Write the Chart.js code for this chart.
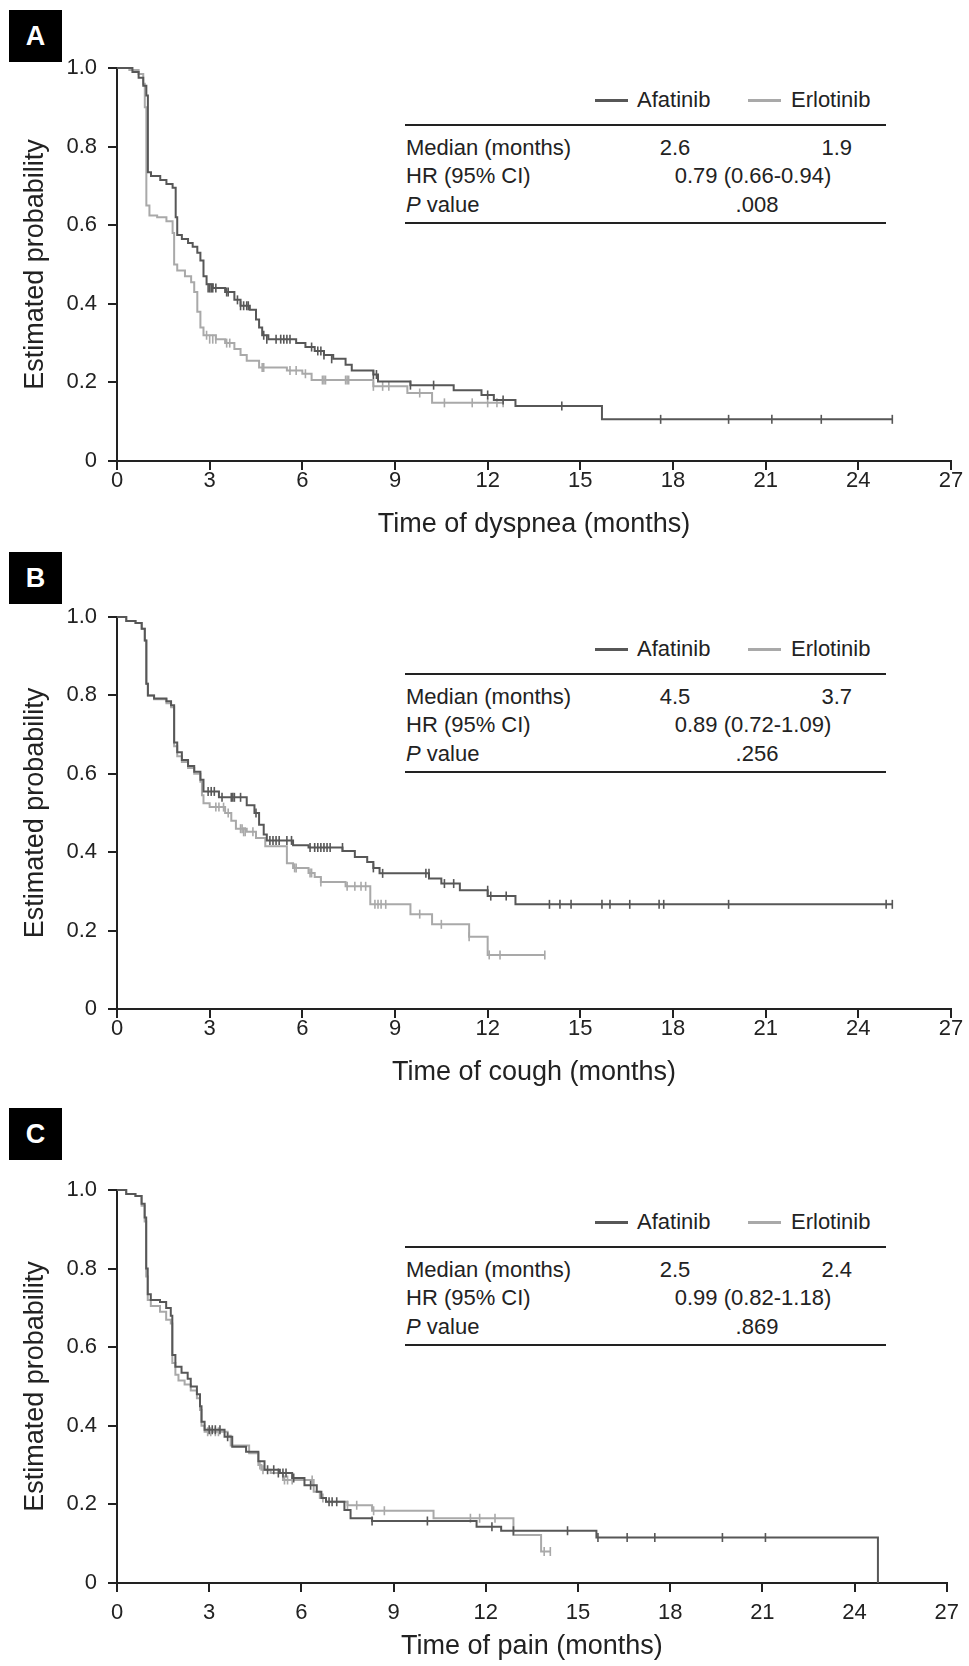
<!DOCTYPE html>
<html>
<head>
<meta charset="utf-8">
<script src="https://cdn.jsdelivr.net/npm/chart.js@4.4.1/dist/chart.umd.min.js"></script>
<style>
  body { margin: 0; background: #fff; font-family: "Liberation Sans", Arial, sans-serif; color: #222; }
  #page { position: relative; width: 969px; height: 1666px; overflow: hidden; }
  canvas { position: absolute; left: 0; }
  .tag { position: absolute; left: 9px; width: 53px; height: 52px; background: #000; color: #fff;
         font-weight: bold; font-size: 27px; line-height: 52px; text-align: center; }
  .rule { position: absolute; left: 405px; width: 481px; height: 2px; background: #222; }
  .txt { position: absolute; font-size: 22px; line-height: 26px; white-space: nowrap; }
  .swatch { position: absolute; width: 33px; height: 3px; }
</style>
</head>
<body>
<div id="page"></div>
<script>
'use strict'

const DARK = '#575757';
const LIGHT = '#a9a9a9';

const xTickMax = 27;
const seriesNames = ['Afatinib', 'Erlotinib'];
const panelLetters = ['A', 'B', 'C'];
const xTitles = ['Time of dyspnea (months)', 'Time of cough (months)', 'Time of pain (months)'];
const medianAfatinib = ['2.6', '4.5', '2.5'];
const medianErlotinib = ['1.9', '3.7', '2.4'];
const hazardRatios = ['0.79 (0.66-0.94)', '0.89 (0.72-1.09)', '0.99 (0.82-1.18)'];
const pValues = ['.008', '.256', '.869'];

// A - dyspnea
const dysAfaT = [0, 0.5, 0.7, 0.85, 0.95, 1.0, 1.1, 1.4, 1.6, 1.8, 1.9, 1.95, 2.1, 2.3, 2.45, 2.6, 2.7, 2.8, 2.9, 3.1, 3.5, 3.8, 4.0, 4.3, 4.5, 4.6, 4.7, 4.9, 5.8, 6.1, 6.4, 6.7, 7.0, 7.4, 7.6, 8.3, 8.45, 9.5, 10.9, 11.8, 12.2, 12.9, 15.7, 25.1];
const dysAfaS = [1.0, 0.99, 0.975, 0.955, 0.93, 0.735, 0.725, 0.715, 0.705, 0.695, 0.62, 0.575, 0.565, 0.555, 0.545, 0.53, 0.51, 0.47, 0.45, 0.44, 0.43, 0.41, 0.395, 0.385, 0.36, 0.34, 0.32, 0.31, 0.30, 0.29, 0.28, 0.27, 0.26, 0.245, 0.23, 0.22, 0.202, 0.193, 0.18, 0.168, 0.155, 0.14, 0.106, 0.106];
const dysAfaCensT = [2.95, 3.0, 3.05, 3.1, 3.2, 3.55, 3.6, 3.9, 4.0, 4.1, 4.2, 4.25, 4.75, 4.85, 5.15, 5.3, 5.4, 5.5, 5.6, 6.3, 6.5, 6.6, 6.7, 6.95, 8.3, 8.4, 9.5, 10.25, 12.0, 12.5, 14.4, 17.6, 19.8, 21.2, 22.8, 25.1];
const dysAfaCensS = [0.44, 0.44, 0.44, 0.44, 0.44, 0.43, 0.43, 0.41, 0.395, 0.395, 0.395, 0.395, 0.32, 0.31, 0.31, 0.31, 0.31, 0.31, 0.31, 0.29, 0.28, 0.28, 0.27, 0.26, 0.22, 0.22, 0.193, 0.193, 0.168, 0.155, 0.14, 0.106, 0.106, 0.106, 0.106, 0.106];
const dysErlT = [0, 0.4, 0.7, 0.85, 0.9, 0.95, 1.05, 1.3, 1.6, 1.8, 1.85, 1.95, 2.2, 2.4, 2.5, 2.6, 2.7, 2.8, 3.2, 3.5, 3.8, 4.0, 4.2, 4.6, 5.5, 6.0, 6.3, 8.3, 9.4, 10.2, 12.5];
const dysErlS = [1.0, 0.995, 0.985, 0.96, 0.9, 0.65, 0.625, 0.62, 0.61, 0.58, 0.5, 0.485, 0.47, 0.455, 0.43, 0.38, 0.34, 0.32, 0.31, 0.30, 0.285, 0.27, 0.255, 0.238, 0.23, 0.222, 0.206, 0.19, 0.173, 0.148, 0.148];
const dysErlCensT = [2.9, 3.0, 3.1, 3.2, 3.55, 3.65, 4.7, 4.75, 5.6, 5.8, 6.1, 6.65, 6.7, 6.75, 7.4, 7.45, 7.5, 8.3, 8.6, 8.8, 9.8, 10.6, 11.5, 12.0, 12.3, 12.5];
const dysErlCensS = [0.32, 0.31, 0.31, 0.31, 0.30, 0.30, 0.238, 0.238, 0.23, 0.23, 0.222, 0.206, 0.206, 0.206, 0.206, 0.206, 0.206, 0.19, 0.19, 0.19, 0.173, 0.148, 0.148, 0.148, 0.148, 0.148];

// B - cough
const couAfaT = [0, 0.3, 0.6, 0.8, 0.9, 0.95, 1.0, 1.2, 1.6, 1.75, 1.85, 1.95, 2.1, 2.3, 2.5, 2.7, 2.8, 3.3, 4.2, 4.45, 4.6, 4.75, 4.85, 5.7, 6.2, 7.3, 7.7, 8.1, 8.3, 8.5, 10.1, 10.5, 11.1, 12.0, 12.9, 25.1];
const couAfaS = [1.0, 0.99, 0.985, 0.97, 0.94, 0.83, 0.80, 0.792, 0.785, 0.775, 0.68, 0.655, 0.635, 0.62, 0.605, 0.585, 0.555, 0.54, 0.52, 0.50, 0.47, 0.445, 0.43, 0.418, 0.412, 0.403, 0.388, 0.375, 0.36, 0.346, 0.333, 0.32, 0.303, 0.288, 0.267, 0.267];
const couAfaCensT = [2.95, 3.05, 3.15, 3.4, 3.7, 3.75, 3.8, 4.0, 4.5, 4.95, 5.05, 5.15, 5.25, 5.5, 5.65, 6.25, 6.4, 6.5, 6.6, 6.7, 6.8, 6.9, 7.3, 8.3, 8.6, 10.0, 10.1, 10.6, 10.9, 12.0, 12.1, 12.6, 14.0, 14.34, 14.7, 15.7, 15.96, 16.6, 17.55, 17.7, 19.8, 24.9, 25.1];
const couAfaCensS = [0.555, 0.555, 0.555, 0.54, 0.54, 0.54, 0.54, 0.54, 0.50, 0.43, 0.43, 0.43, 0.43, 0.43, 0.43, 0.412, 0.412, 0.412, 0.412, 0.412, 0.412, 0.412, 0.412, 0.36, 0.346, 0.346, 0.346, 0.32, 0.32, 0.303, 0.288, 0.288, 0.267, 0.267, 0.267, 0.267, 0.267, 0.267, 0.267, 0.267, 0.267, 0.267, 0.267];
const couErlT = [0, 0.3, 0.6, 0.8, 0.9, 0.95, 1.0, 1.2, 1.6, 1.75, 1.85, 1.95, 2.1, 2.3, 2.5, 2.7, 2.75, 2.8, 3.0, 3.5, 3.7, 3.85, 4.2, 4.5, 4.8, 5.5, 5.7, 6.2, 6.4, 6.6, 7.4, 8.2, 9.5, 10.2, 11.4, 12.0, 13.85];
const couErlS = [1.0, 0.99, 0.985, 0.97, 0.94, 0.83, 0.80, 0.79, 0.78, 0.77, 0.67, 0.645, 0.63, 0.615, 0.60, 0.58, 0.545, 0.525, 0.515, 0.50, 0.48, 0.46, 0.452, 0.436, 0.415, 0.372, 0.36, 0.347, 0.337, 0.324, 0.313, 0.267, 0.242, 0.216, 0.184, 0.138, 0.138];
const couErlCensT = [3.2, 3.3, 3.45, 3.6, 4.0, 4.05, 4.1, 4.15, 4.4, 5.75, 5.8, 6.25, 6.3, 6.6, 7.45, 7.7, 7.9, 8.05, 8.35, 8.45, 8.55, 8.7, 9.8, 10.5, 11.4, 12.05, 12.4, 13.85];
const couErlCensS = [0.515, 0.515, 0.515, 0.50, 0.46, 0.46, 0.452, 0.452, 0.452, 0.36, 0.36, 0.347, 0.347, 0.324, 0.313, 0.313, 0.313, 0.313, 0.267, 0.267, 0.267, 0.267, 0.242, 0.216, 0.184, 0.138, 0.138, 0.138];

// C - pain
const paiAfaT = [0, 0.3, 0.6, 0.8, 0.9, 0.95, 1.0, 1.1, 1.4, 1.6, 1.75, 1.8, 1.9, 2.1, 2.3, 2.4, 2.6, 2.7, 2.75, 2.85, 3.5, 3.75, 4.2, 4.6, 4.8, 5.3, 5.7, 6.1, 6.5, 6.65, 6.8, 7.4, 7.6, 8.3, 11.7, 12.5, 15.6, 24.76, 24.76];
const paiAfaS = [1.0, 0.99, 0.985, 0.965, 0.93, 0.80, 0.735, 0.72, 0.715, 0.70, 0.68, 0.58, 0.55, 0.535, 0.52, 0.50, 0.48, 0.45, 0.41, 0.39, 0.372, 0.347, 0.334, 0.31, 0.288, 0.28, 0.267, 0.249, 0.232, 0.216, 0.207, 0.186, 0.165, 0.158, 0.143, 0.133, 0.116, 0.116, 0];
const paiAfaCensT = [3.0, 3.1, 3.2, 3.35, 3.6, 4.9, 5.1, 5.25, 5.4, 5.5, 5.75, 6.3, 6.9, 7.0, 7.15, 8.3, 10.1, 12.2, 12.9, 14.66, 15.65, 16.6, 17.5, 19.7, 21.1];
const paiAfaCensS = [0.39, 0.39, 0.39, 0.39, 0.372, 0.288, 0.288, 0.28, 0.28, 0.28, 0.267, 0.249, 0.207, 0.207, 0.207, 0.158, 0.158, 0.143, 0.133, 0.133, 0.116, 0.116, 0.116, 0.116, 0.116];
const paiErlT = [0, 0.3, 0.6, 0.8, 0.9, 0.95, 1.0, 1.1, 1.4, 1.6, 1.75, 1.8, 1.9, 2.0, 2.2, 2.4, 2.6, 2.7, 2.75, 2.85, 3.6, 3.7, 4.3, 4.6, 4.7, 5.0, 5.4, 6.4, 6.6, 6.8, 7.5, 8.3, 10.3, 12.9, 13.8, 14.1];
const paiErlS = [1.0, 0.99, 0.985, 0.96, 0.92, 0.78, 0.72, 0.705, 0.69, 0.67, 0.66, 0.56, 0.53, 0.515, 0.505, 0.49, 0.47, 0.44, 0.40, 0.385, 0.375, 0.35, 0.33, 0.30, 0.288, 0.28, 0.262, 0.232, 0.216, 0.207, 0.198, 0.184, 0.165, 0.122, 0.08, 0.08];
const paiErlCensT = [2.95, 3.05, 3.2, 3.3, 4.65, 4.75, 5.45, 5.55, 5.7, 6.35, 6.7, 7.5, 7.8, 8.35, 8.7, 11.5, 11.8, 12.3, 13.9, 14.1];
const paiErlCensS = [0.385, 0.385, 0.385, 0.385, 0.30, 0.288, 0.262, 0.262, 0.262, 0.262, 0.216, 0.198, 0.198, 0.184, 0.184, 0.165, 0.165, 0.165, 0.08, 0.08];

const curves = [
    [dysAfaT, dysAfaS, dysAfaCensT, dysAfaCensS, dysErlT, dysErlS, dysErlCensT, dysErlCensS],
    [couAfaT, couAfaS, couAfaCensT, couAfaCensS, couErlT, couErlS, couErlCensT, couErlCensS],
    [paiAfaT, paiAfaS, paiAfaCensT, paiAfaCensS, paiErlT, paiErlS, paiErlCensT, paiErlCensS]
];

// page layout for each panel: canvas top, canvas height, plot area top/bottom (local), tick label gap, letter box top
const layout = [
    { top: 0, height: 550, areaTop: 68, areaBottom: 461, labelPad: 0, tagTop: 10 },
    { top: 550, height: 550, areaTop: 67, areaBottom: 459, labelPad: 0, tagTop: 552 },
    { top: 1100, height: 566, areaTop: 90, areaBottom: 483, labelPad: 10, tagTop: 1108 }
];

const page = document.getElementById('page');

function addDiv(cls, css, text) {
    let d = document.createElement('div');
    d.className = cls;
    Object.assign(d.style, css);
    if (text !== undefined) d.innerHTML = text;
    page.appendChild(d);
    return d;
}

function toPoints(ts, ss) {
    return ts.map((t, i) => ({ x: t, y: ss[i] }));
}

function drawPanel(i) {
    let lay = layout[i];
    let c = curves[i];

    addDiv('tag', { top: lay.tagTop + 'px' }, panelLetters[i]);

    // legend + summary table
    let ruleTop = lay.top + lay.areaTop + 57;
    let legendY = ruleTop - 25;
    addDiv('swatch', { left: '595px', top: (legendY - 1) + 'px', background: DARK });
    addDiv('txt', { left: '637px', top: (legendY - 13) + 'px' }, seriesNames[0]);
    addDiv('swatch', { left: '748px', top: (legendY - 1) + 'px', background: LIGHT });
    addDiv('txt', { left: '791px', top: (legendY - 13) + 'px' }, seriesNames[1]);
    addDiv('rule', { top: (ruleTop - 1) + 'px' });
    let rows = [ruleTop + 23, ruleTop + 51, ruleTop + 80];
    addDiv('txt', { left: '406px', top: (rows[0] - 13) + 'px' }, 'Median (months)');
    addDiv('txt', { left: '615px', width: '120px', textAlign: 'center', top: (rows[0] - 13) + 'px' }, medianAfatinib[i]);
    addDiv('txt', { left: '752px', width: '100px', textAlign: 'right', top: (rows[0] - 13) + 'px' }, medianErlotinib[i]);
    addDiv('txt', { left: '406px', top: (rows[1] - 13) + 'px' }, 'HR (95% CI)');
    addDiv('txt', { left: '653px', width: '200px', textAlign: 'center', top: (rows[1] - 13) + 'px' }, hazardRatios[i]);
    addDiv('txt', { left: '406px', top: (rows[2] - 13) + 'px' }, '<i>P</i> value');
    addDiv('txt', { left: '697px', width: '120px', textAlign: 'center', top: (rows[2] - 13) + 'px' }, pValues[i]);
    addDiv('rule', { top: (ruleTop + 97) + 'px' });

    let canvas = document.createElement('canvas');
    canvas.width = 969;
    canvas.height = lay.height;
    canvas.style.top = lay.top + 'px';
    page.appendChild(canvas);

    const stepLine = (data, color) => ({
        data: data, borderColor: color, borderWidth: 2, pointRadius: 0,
        stepped: true, fill: false, clip: 4
    });
    const censor = (data, color) => ({
        data: data, borderColor: color, backgroundColor: color, showLine: false,
        pointStyle: 'line', rotation: 90, pointRadius: 4.5, borderWidth: 1.6, clip: 6
    });

    new Chart(canvas.getContext('2d'), {
        type: 'line',
        data: {
            datasets: [
                stepLine(toPoints(c[0], c[1]), DARK),
                censor(toPoints(c[2], c[3]), DARK),
                stepLine(toPoints(c[4], c[5]), LIGHT),
                censor(toPoints(c[6], c[7]), LIGHT)
            ]
        },
        options: {
            responsive: false,
            animation: false,
            layout: { padding: { top: lay.areaTop, left: 0, right: 18, bottom: lay.height - lay.areaBottom - 80 } },
            plugins: { legend: { display: false }, tooltip: { enabled: false } },
            scales: {
                x: {
                    type: 'linear', min: 0, max: xTickMax,
                    ticks: { stepSize: 3, padding: lay.labelPad, color: '#222', font: { family: 'Liberation Sans', size: 22, lineHeight: 1 } },
                    grid: { drawOnChartArea: false, tickLength: 9, color: '#222', lineWidth: 2 },
                    border: { color: '#222', width: 2 },
                    title: { display: true, text: xTitles[i], color: '#222', font: { family: 'Liberation Sans', size: 27 }, padding: { top: 0, bottom: 0 } },
                    afterFit: scale => { scale.height = 80; }
                },
                y: {
                    type: 'linear', min: 0, max: 1,
                    ticks: {
                        stepSize: 0.2, padding: 11, color: '#222',
                        font: { family: 'Liberation Sans', size: 22, lineHeight: 1 },
                        callback: v => v === 0 ? '0' : v.toFixed(1)
                    },
                    grid: { drawOnChartArea: false, tickLength: 9, color: '#222', lineWidth: 2 },
                    border: { color: '#222', width: 2 },
                    title: { display: true, text: 'Estimated probability', color: '#222', font: { family: 'Liberation Sans', size: 27 }, padding: { top: 19, bottom: 0 } },
                    afterFit: scale => { scale.width = 117; }
                }
            }
        }
    });
}

for (let i = 0; i < 3; i++) drawPanel(i);
</script>
</body>
</html>
